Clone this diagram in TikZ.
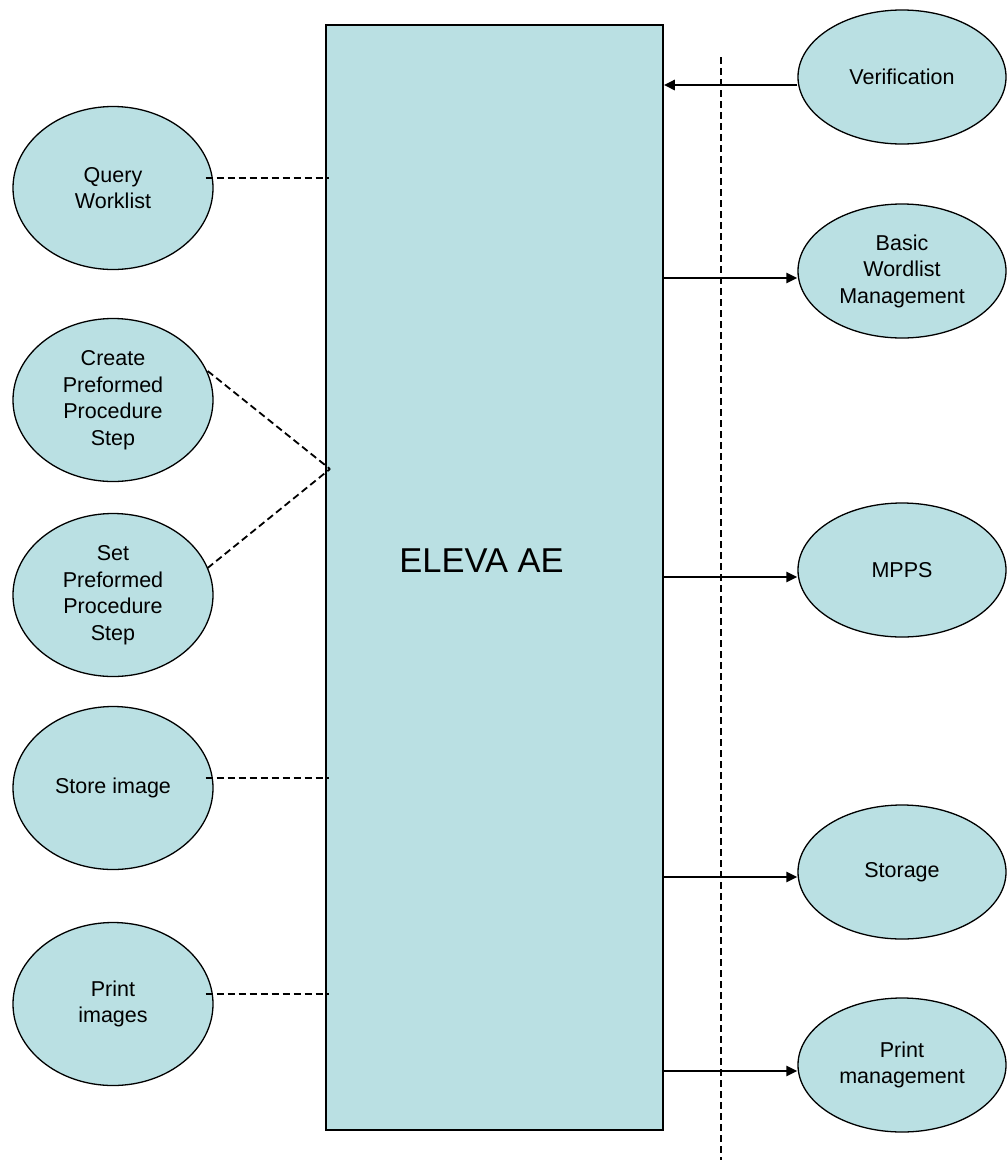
\documentclass[tikz,border=0pt]{standalone}
\usepackage{fontspec}
\setmainfont{Liberation Sans}
\usetikzlibrary{shapes.geometric,arrows.meta}
\definecolor{fillc}{RGB}{186,224,227}
\begin{document}
\begin{tikzpicture}[x=1pt,y=-1pt,
  uc/.style={ellipse,draw=black,line width=1.3pt,fill=fillc,inner sep=0pt,
    minimum width=200pt,minimum height=163pt,align=center,
    font=\fontsize{21.5}{26.5}\selectfont},
  ucr/.style={uc,minimum width=208pt,minimum height=134pt},
  arr/.style={line width=2.6pt,-{Triangle[length=11pt,width=10pt]}},
  dsh/.style={line width=1.8pt,dash pattern=on 7pt off 4pt}]
\useasboundingbox (0,0) rectangle (1007,1160);
% main block
\node[draw=black,line width=1.6pt,fill=fillc,minimum width=337pt,minimum height=1105pt,inner sep=0pt,
  label={[font=\fontsize{34.5}{40}\selectfont,xshift=-13pt,yshift=17pt]center:ELEVA AE}] (main) at (494.5,577.5) {};
% left use cases
\node[uc] (q) at (113,188) {Query\\Worklist};
\node[uc] (c) at (113,400) {Create\\Preformed\\Procedure\\Step};
\node[uc] (s) at (113,595) {Set\\Preformed\\Procedure\\Step};
\node[uc] (st) at (113,788) {Store image};
\node[uc] (p) at (113,1004) {Print\\images};
% right use cases
\node[ucr] (v) at (902,77) {Verification};
\node[ucr] (b) at (902,271) {Basic\\Wordlist\\Management};
\node[ucr] (m) at (902,570) {MPPS};
\node[ucr] (sg) at (902,872) {Storage};
\node[ucr] (pm) at (902,1065) {Print\\management};
% boundary
\coordinate (vt) at (721,57);
\coordinate (vb) at (721,1160);
\draw[dsh] (vt) -- (vb);
% left dashed connectors
\coordinate (j) at (330,469);
\draw[dsh] ([shift={(-8,-10)}]q.east) -- ([shift={(4,-10)}]main.west |- q.east);
\draw[dsh] ([shift={(-8,-10)}]st.east) -- ([shift={(4,-10)}]main.west |- st.east);
\draw[dsh] ([shift={(-8,-10)}]p.east) -- ([shift={(4,-10)}]main.west |- p.east);
\draw[dsh] ([shift={(-6,-29)}]c.east) -- (j);
\draw[dsh] ([shift={(-6,-27)}]s.east) -- (j);
% right arrows
\draw[arr] ([shift={(0,8)}]v.west) -- ([shift={(0,8)}]main.east |- v.west);
\draw[arr] ([shift={(0,7)}]main.east |- b.west) -- ([shift={(0,7)}]b.west);
\draw[arr] ([shift={(0,7)}]main.east |- m.west) -- ([shift={(0,7)}]m.west);
\draw[arr] ([shift={(0,5)}]main.east |- sg.west) -- ([shift={(0,5)}]sg.west);
\draw[arr] ([shift={(0,6)}]main.east |- pm.west) -- ([shift={(0,6)}]pm.west);
\end{tikzpicture}
\end{document}
